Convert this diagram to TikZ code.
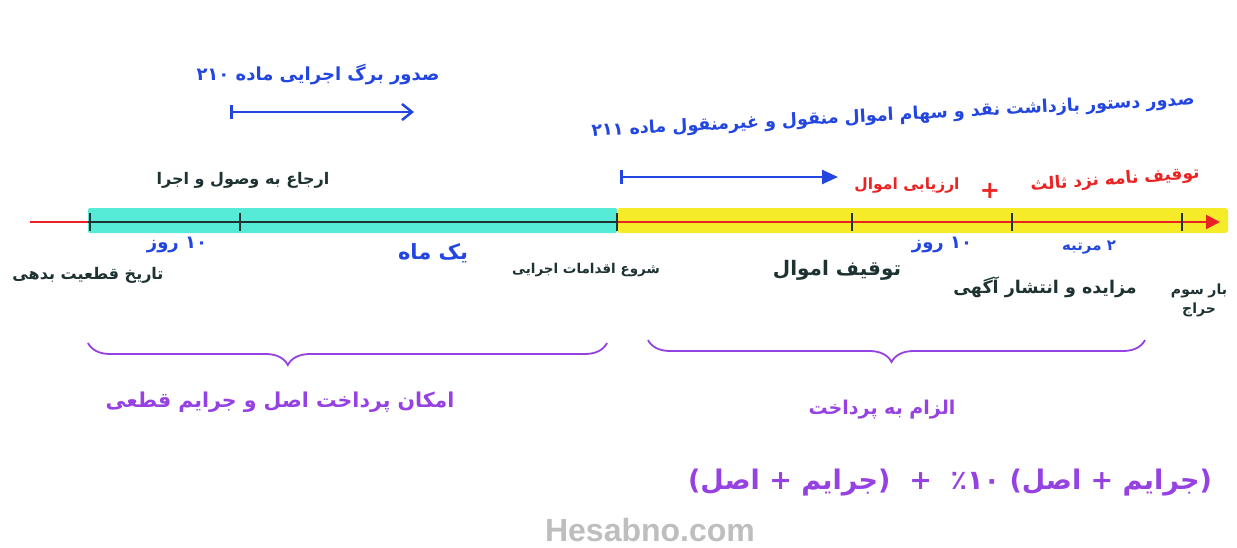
\documentclass[tikz,border=0pt]{standalone}
\usepackage{fontspec}
\usetikzlibrary{arrows.meta,decorations.pathreplacing}
\TeXXeTstate=1
\newfontfamily\fafont[Script=Arabic]{DejaVu Sans}
\setsansfont{Liberation Sans}
\newcommand\rtltext[1]{\fafont\bfseries\beginR #1\endR}
\newcommand\fs[1]{\fontsize{#1}{#1}\selectfont}
\definecolor{inkblue}{RGB}{35,70,225}
\definecolor{inkdark}{RGB}{30,50,50}
\definecolor{inkred}{RGB}{235,35,35}
\definecolor{inkpurple}{RGB}{150,65,225}
\definecolor{bandcyan}{RGB}{85,235,215}
\definecolor{bandyellow}{RGB}{245,235,40}
\definecolor{wmgray}{RGB}{190,190,190}
\tikzset{
  lbl/.style={inner sep=1pt},
  bluelbl/.style={lbl, text=inkblue},
  darklbl/.style={lbl, text=inkdark},
  redlbl/.style={lbl, text=inkred},
  purplelbl/.style={lbl, text=inkpurple},
  tickmark/.style={draw=inkdark, line width=2.5pt},
  bluearrow/.style={draw=inkblue, line width=2.5pt},
  bracestyle/.style={draw=inkpurple, line width=1.8pt, decorate},
}
\begin{document}
\begin{tikzpicture}[x=1pt,y=-1pt]
\useasboundingbox[fill=white] (0,0) rectangle (1237,547);
% bands
\fill[bandcyan, rounded corners=2pt] (88,208) rectangle (617,233);
\fill[bandyellow, rounded corners=3pt] (617,208) rectangle (1228,233);
% timeline
\coordinate (tstart) at (30,222);
\coordinate (tc0) at (88,222);
\coordinate (tc1) at (617,222);
\coordinate (tend) at (1220,222);
\draw[inkred, line width=2.5pt] (tstart) -- (tc0);
\draw[inkdark, line width=2.5pt] (tc0) -- (tc1);
\draw[inkred, line width=2.5pt, -{Triangle[length=14pt,width=14pt]}] (tc1) -- (tend);
% ticks
\foreach \n/\x in {a/90,b/240,c/617,d/852,e/1012,f/1182}{
  \coordinate (k\n t) at (\x,213);
  \coordinate (k\n b) at (\x,231);
  \draw[tickmark] (k\n t) -- (k\n b);
}
% top blue texts and arrows
\node[bluelbl, font=\fs{18}] (t210) at (318,75) {\rtltext{صدور برگ اجرایی ماده ۲۱۰}};
\coordinate (a1s) at (230,112);
\coordinate (a1e) at (414,112);
\draw[bluearrow, {Bar[width=14pt]}-{Straight Barb[length=10pt,width=16pt]}] (a1s) -- (a1e);
\node[bluelbl, rotate=3, font=\fs{17.5}] (t211) at (893,116) {\rtltext{صدور دستور بازداشت نقد و سهام اموال منقول و غیرمنقول ماده ۲۱۱}};
\coordinate (a2s) at (620,177);
\coordinate (a2e) at (838,177);
\draw[bluearrow, {Bar[width=14pt]}-{Triangle[length=16pt,width=14pt]}] (a2s) -- (a2e);
% above timeline
\node[darklbl, font=\fs{16}] (erja) at (243,180) {\rtltext{ارجاع به وصول و اجرا}};
\node[redlbl, font=\fs{15.5}] (arzyabi) at (907,185) {\rtltext{ارزیابی اموال}};
\node[text=inkred, font=\fafont\bfseries\fs{24}, inner sep=0pt] (plus) at (990,191) {+};
\node[redlbl, rotate=4, font=\fs{17}] (tavghif3) at (1115,180) {\rtltext{توقیف نامه نزد ثالث}};
% below timeline
\node[bluelbl, font=\fs{18}] (r10a) at (177,245) {\rtltext{۱۰ روز}};
\node[darklbl, font=\fs{16}] (ghateiat) at (88,275) {\rtltext{تاریخ قطعیت بدهی}};
\node[bluelbl, font=\fs{21}] (yekmah) at (433,253) {\rtltext{یک ماه}};
\node[darklbl, font=\fs{13.5}] (shoroo) at (586,270) {\rtltext{شروع اقدامات اجرایی}};
\node[darklbl, font=\fs{20}] (tavghif) at (837,270) {\rtltext{توقیف اموال}};
\node[bluelbl, font=\fs{18}] (r10b) at (942,245) {\rtltext{۱۰ روز}};
\node[bluelbl, font=\fs{15}] (martabe) at (1089,248) {\rtltext{۲ مرتبه}};
\node[darklbl, font=\fs{17.5}] (mozayede) at (1045,287) {\rtltext{مزایده و انتشار آگهی}};
\node[darklbl, align=center, font=\fs{14}, text width=60pt] (haraj) at (1199,300) {\rtltext{بار سوم}\\[4pt]\rtltext{حراج}};
% braces
\coordinate (b1r) at (607,343);
\coordinate (b1l) at (88,343);
\draw[bracestyle, decoration={brace, amplitude=22pt, aspect=0.615}] (b1r) -- (b1l);
\coordinate (b2r) at (1145,340);
\coordinate (b2l) at (648,340);
\draw[bracestyle, decoration={brace, amplitude=22pt, aspect=0.51}] (b2r) -- (b2l);
\node[purplelbl, font=\fs{20.5}] (emkan) at (280,402) {\rtltext{امکان پرداخت اصل و جرایم قطعی}};
\node[purplelbl, font=\fs{19}] (elzam) at (882,410) {\rtltext{الزام به پرداخت}};
\node[purplelbl, font=\fs{27}] (formula) at (950,483) {\rtltext{(جرایم + اصل) ٪۱۰ \ + \ (جرایم + اصل)}};
% watermark
\node[text=wmgray, font=\sffamily\bfseries\fs{32}] (wm) at (650,530) {Hesabno.com};
\end{tikzpicture}
\end{document}
